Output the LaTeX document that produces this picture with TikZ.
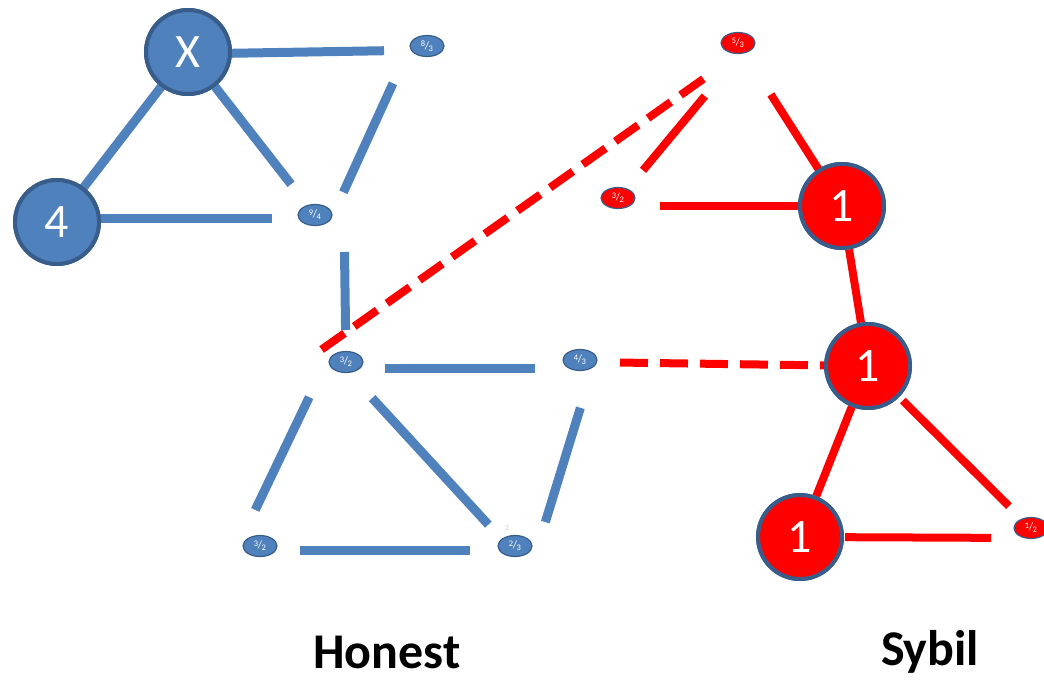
\documentclass[tikz,border=0pt]{standalone}
\usepackage{fontspec}
\setmainfont{Carlito}
\usetikzlibrary{shapes.geometric}
\definecolor{hblue}{HTML}{4F81BD}
\definecolor{hedge}{HTML}{385D8A}
\definecolor{sred}{HTML}{FF0000}
\newcommand{\frc}[2]{\raisebox{2.4pt}{\fontsize{8.5}{8.5}\selectfont #1}\hspace{-0.4pt}{\fontsize{11}{11}\selectfont /}\hspace{-0.4pt}\raisebox{-2pt}{\fontsize{8.5}{8.5}\selectfont #2}}
\tikzset{
  bignode/.style={circle, draw=hedge, line width=4pt, minimum size=84pt, inner sep=0pt,
    text=white, font=\fontsize{48}{48}\selectfont},
  honestbig/.style={bignode, fill=hblue},
  sybilbig/.style={bignode, fill=sred},
  smallnode/.style={ellipse, draw=hedge, line width=1.2pt, minimum width=34pt, minimum height=21pt,
    inner sep=0pt, text=white},
  honestsmall/.style={smallnode, fill=hblue},
  sybilsmall/.style={smallnode, fill=sred},
  hlink/.style={draw=hblue, line width=9pt},
  slink/.style={draw=sred, line width=8pt},
  sdash/.style={slink, dash pattern=on 28pt off 12pt},
  caption/.style={font=\bfseries\fontsize{50}{50}\selectfont, text=black}
}
\begin{document}
\begin{tikzpicture}[x=1pt, y=-1pt]
\useasboundingbox (0,0) rectangle (1044,681);

% honest region
\node[honestbig] (X) at (188,52) {X};
\node[honestbig] (four) at (57,222) {4};
\node[honestsmall] (h83) at (427,46) {\frc{8}{3}};
\node[honestsmall] (h94) at (315,215) {\frc{9}{4}};
\node[honestsmall] (h32a) at (346,362) {\frc{3}{2}};
\node[honestsmall] (h43) at (580,360) {\frc{4}{3}};
\node[honestsmall] (h32b) at (260,546) {\frc{3}{2}};
\node[honestsmall] (h23) at (515,546) {\frc{2}{3}};
\node[text=gray!35, font=\fontsize{8}{8}\selectfont, inner sep=0pt] (h23mark) at (507,528) {2};

% sybil region
\node[sybilsmall] (s53) at (738,43) {\frc{5}{3}};
\node[sybilsmall] (s32) at (618,198) {\frc{3}{2}};
\node[sybilbig] (s1a) at (842,206) {1};
\node[sybilbig] (s1b) at (868,366) {1};
\node[sybilbig] (s1c) at (800,537) {1};
\node[sybilsmall] (s12) at (1031,528) {\frc{1}{2}};

% honest edges
\path[hlink, shorten <=44pt, shorten >=43pt] ([yshift=-2pt]X.center) -- ([yshift=-4pt]h83.center);
\path[hlink, shorten <=41pt, shorten >=25pt] ([xshift=-17pt]h83.center) -- ([xshift=18pt]h94.center);
\path[hlink, shorten <=37pt, shorten >=32pt] ([xshift=29pt]h94.center) -- (h32a.center);
\path[hlink, shorten <=39pt, shorten >=45pt] ([yshift=-6pt]h32a.center) -- ([yshift=-8pt]h43.center);
\path[hlink, shorten <=39pt, shorten >=40pt] ([xshift=-20pt]h32a.center) -- ([xshift=-22pt]h32b.center);
\path[hlink, shorten <=49pt, shorten >=29pt] ([xshift=-7pt]h32a.center) -- ([xshift=-7pt]h23.center);
\path[hlink, shorten <=50pt, shorten >=25pt] ([xshift=15pt]h43.center) -- ([xshift=23pt]h23.center);
\path[hlink, shorten <=40pt, shorten >=45pt] ([yshift=-4pt]h32b.center) -- ([yshift=-4pt]h23.center);
\path[hlink, shorten <=43pt, shorten >=42pt] (X.center) -- (four.center);
\path[hlink, shorten <=44pt, shorten >=39pt] (X.center) -- (h94.center);
\path[hlink, shorten <=43pt, shorten >=43pt] ([yshift=4pt]four.center) -- ([yshift=-3pt]h94.center);

% sybil edges
\path[sdash, shorten <=62pt, shorten >=17pt] ([xshift=16pt]s53.center) -- ([xshift=-42pt]h32a.center);
\path[slink, shorten <=69pt, shorten >=36pt] ([xshift=11pt]s53.center) -- ([xshift=2pt]s32.center);
\path[slink, shorten <=61pt, shorten >=42pt] (s53.center) -- (s1a.center);
\path[slink, shorten <=42pt, shorten >=42pt] ([yshift=-8pt]s32.center) -- (s1a.center);
\path[slink, shorten <=44pt, shorten >=44pt] (s1a.center) -- (s1b.center);
\path[sdash, shorten <=40pt, shorten >=43pt] ([yshift=-2pt]h43.center) -- (s1b.center);
\path[slink, shorten <=44pt, shorten >=44pt] (s1b.center) -- (s1c.center);
\path[slink, shorten <=49pt, shorten >=31pt] (s1b.center) -- (s12.center);
\path[slink, shorten <=45pt, shorten >=40pt] (s1c.center) -- ([yshift=-10pt]s12.center);

% redraw nodes on top of the edges
\node[honestbig] at (X) {X};
\node[honestbig] at (four) {4};
\node[sybilbig] at (s1a) {1};
\node[sybilbig] at (s1b) {1};
\node[sybilbig] at (s1c) {1};

% group labels
\node[caption] (honest) at (387,652) {Honest};
\node[caption] (sybil) at (930,652) {Sybil};
\end{tikzpicture}
\end{document}
